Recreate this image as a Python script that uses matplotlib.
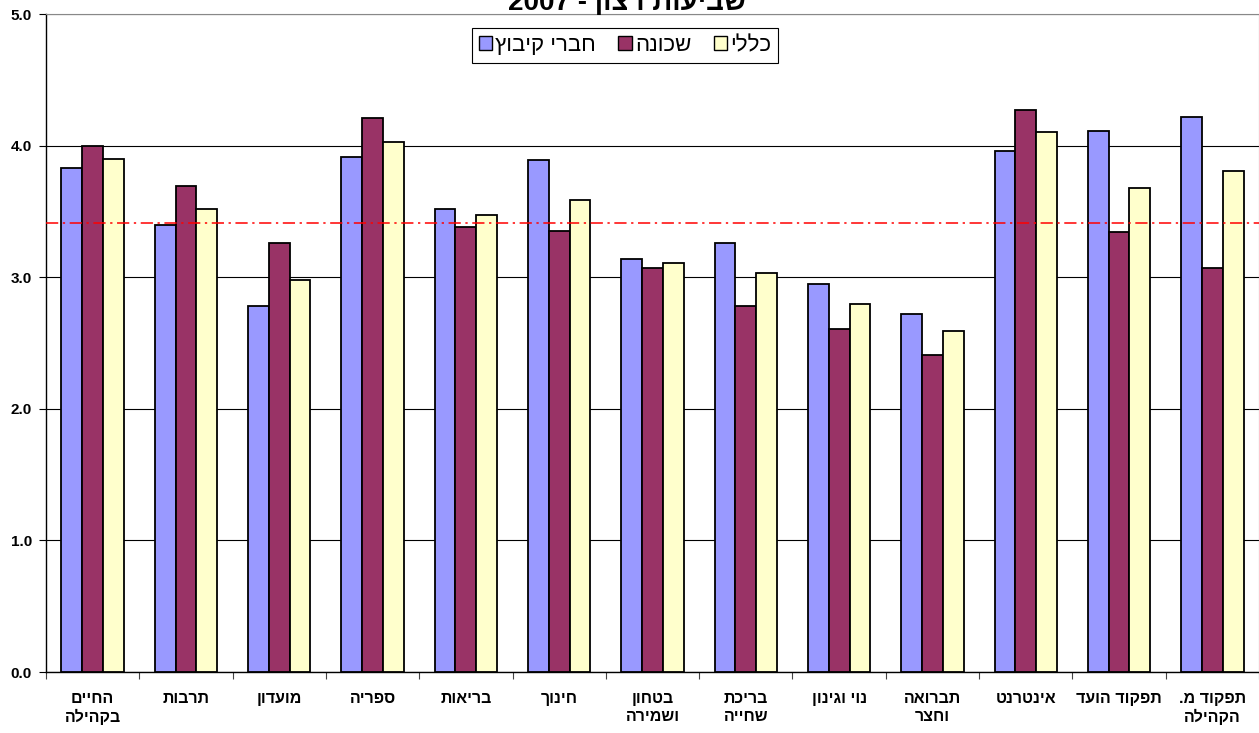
import numpy as np
import matplotlib.pyplot as plt
from matplotlib.patches import Patch

plt.rcParams['font.family'] = ['Liberation Sans', 'DejaVu Sans']


def heb(s):
    # matplotlib has no bidi, so lay the Hebrew out right-to-left by hand
    return "\n".join(line[::-1] for line in s.split("\n"))


categories = ["החיים\nבקהילה", "תרבות", "מועדון", "ספריה", "בריאות", "חינוך",
              "בטחון\nושמירה", "בריכת\nשחייה", "נוי וגינון", "תברואה\nוחצר",
              "אינטרנט", "תפקוד הועד", "תפקוד מ.\nהקהילה"]
kibbutz = [3.83, 3.40, 2.78, 3.91, 3.52, 3.89, 3.14, 3.26, 2.95, 2.72, 3.96, 4.11, 4.22]
shchuna = [4.00, 3.69, 3.26, 4.21, 3.38, 3.35, 3.07, 2.78, 2.61, 2.41, 4.27, 3.34, 3.07]
klali = [3.90, 3.52, 2.98, 4.03, 3.47, 3.59, 3.11, 3.03, 2.80, 2.59, 4.10, 3.68, 3.81]
average = 3.41
series_names = ["חברי קיבוץ", "שכונה", "כללי"]
colors = ["#9999FF", "#993366", "#FFFFCC"]

fig = plt.figure(figsize=(12.59, 7.33), dpi=100)
ax = fig.add_axes([46 / 1259, 1 - 672 / 733, 1 - 46 / 1259, (672 - 14) / 733])

x = np.arange(len(categories))
w = 0.223
for i, vals in enumerate([kibbutz, shchuna, klali]):
    ax.bar(x + (i - 1) * w, vals, w, color=colors[i], edgecolor="black",
           linewidth=1.3, zorder=3)

ax.axhline(average, color="#FF0000", linestyle=(0, (8, 3, 1.5, 3)), linewidth=1.1, zorder=5)

ax.set_xlim(-0.5, len(categories) - 0.5)
ax.set_ylim(0, 5)
ax.set_yticks(np.arange(0, 5.01, 1))
ax.set_yticklabels([f"{v:.1f}" for v in np.arange(0, 5.01, 1)],
                   fontsize=11, fontweight="bold")
ax.yaxis.grid(True, color="black", linewidth=0.8)
ax.set_axisbelow(True)

ax.set_xticks(x)
ax.set_xticklabels([heb(c) for c in categories], fontsize=11.5, fontweight="bold",
                   linespacing=1.2)
ax.set_xticks(np.arange(-0.5, len(categories)), minor=True)
ax.tick_params(axis="x", which="major", length=0, pad=14)
ax.tick_params(axis="x", which="minor", length=5, width=0.8, color="#444444")
ax.tick_params(axis="y", length=5, width=0.8, pad=5)

for side in ["top", "right"]:
    ax.spines[side].set_color("#888888")
for side in ["left", "bottom"]:
    ax.spines[side].set_color("black")
    ax.spines[side].set_linewidth(1)

handles = [Patch(facecolor=c, edgecolor="black", linewidth=1) for c in colors]
leg = fig.legend(handles, [heb(s) for s in series_names], loc="center",
                 bbox_to_anchor=(625 / 1259, 1 - 45.5 / 733), ncol=3, fontsize=16,
                 frameon=True, fancybox=False, edgecolor="black", framealpha=1,
                 handlelength=0.6, handleheight=0.6, handletextpad=0.15,
                 columnspacing=1.0, borderpad=0.3)
leg.get_frame().set_linewidth(0.8)

fig.text(627 / 1259, 1 - 10 / 733, "2007 - " + heb("שביעות רצון"), ha="center",
         va="baseline", fontsize=20, fontweight="bold")

fig.savefig("out.png", dpi=100)
